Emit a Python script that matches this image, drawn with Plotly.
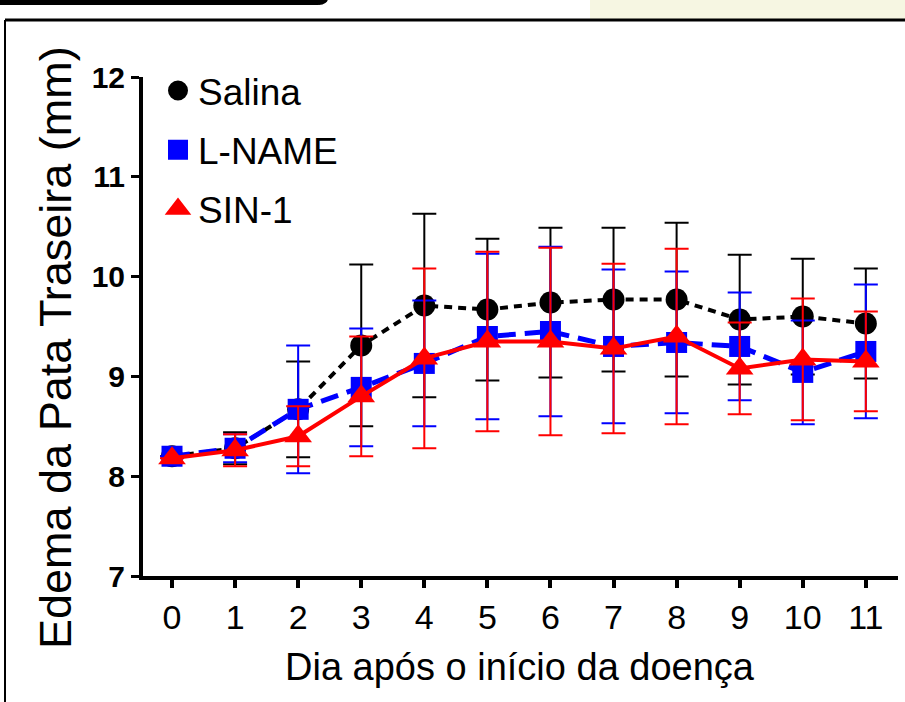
import plotly.graph_objects as go

# ---- data ----
days = [0, 1, 2, 3, 4, 5, 6, 7, 8, 9, 10, 11]
salina = [8.20, 8.28, 8.67, 9.31, 9.71, 9.67, 9.74, 9.77, 9.77, 9.57, 9.60, 9.53]
salina_err = [0.0, 0.16, 0.48, 0.81, 0.92, 0.71, 0.75, 0.72, 0.77, 0.65, 0.58, 0.55]
lname = [8.20, 8.28, 8.67, 8.89, 9.13, 9.40, 9.45, 9.30, 9.34, 9.30, 9.04, 9.25]
lname_err = [0.0, 0.14, 0.64, 0.59, 0.63, 0.83, 0.85, 0.77, 0.71, 0.54, 0.52, 0.67]
sin1 = [8.18, 8.26, 8.40, 8.80, 9.18, 9.35, 9.35, 9.28, 9.40, 9.08, 9.17, 9.15]
sin1_err = [0.0, 0.16, 0.30, 0.60, 0.90, 0.90, 0.94, 0.85, 0.88, 0.46, 0.61, 0.50]
series_names = ["Salina", "L-NAME", "SIN-1"]
x_tick_vals = days
y_tick_vals = [7, 8, 9, 10, 11, 12]
x_title = "Dia após o início da doença"
y_title = "Edema da Pata Traseira (mm)"

FONT = "Liberation Sans, Arial, sans-serif"
W, H = 905, 702
L, R, T, B = 143, 7, 77, 126
PW, PH = W - L - R, H - T - B


def px(xp):
    return (xp - L) / PW


def py(yp):
    return (H - B - yp) / PH


fig = go.Figure()

styles = [
    dict(color="black", dash="8px,6px", width=4, symbol="circle", size=22),
    dict(color="#0000ff", dash="18px,9px", width=5, symbol="square", size=21),
    dict(color="#ff0000", dash="solid", width=4, symbol="triangle-up", size=24),
]
vals = [salina, lname, sin1]
errs = [salina_err, lname_err, sin1_err]

for name, v, e, s in zip(series_names, vals, errs, styles):
    fig.add_trace(go.Scatter(
        x=days, y=v, mode="lines+markers", name=name, showlegend=False,
        line=dict(color=s["color"], width=s["width"], dash=s["dash"]),
        marker=dict(symbol=s["symbol"], size=s["size"], color=s["color"]),
        error_y=dict(type="data", array=e, visible=True, color=s["color"],
                     thickness=2, width=12),
        cliponaxis=False,
    ))

for name, s in zip(series_names, styles):
    fig.add_trace(go.Scatter(
        x=[None], y=[None], mode="markers", name=name, legendgroup=name,
        marker=dict(symbol=s["symbol"], size=16, color=s["color"],
                    line=dict(color=s["color"], width=4)),
    ))

shapes = [
    dict(type="rect", xref="paper", yref="paper", x0=px(590), x1=px(905),
         y0=py(0), y1=py(19), fillcolor="#f6f6e2", line=dict(width=0), layer="below"),
    dict(type="rect", xref="paper", yref="paper", x0=px(0), x1=px(318),
         y0=py(0), y1=py(5), fillcolor="black", line=dict(width=0)),
    dict(type="circle", xref="paper", yref="paper", x0=px(310), x1=px(328),
         y0=py(-8), y1=py(5), fillcolor="black", line=dict(width=0)),
    dict(type="line", xref="paper", yref="paper", x0=px(5), x1=px(905),
         y0=py(20), y1=py(20), line=dict(color="black", width=3)),
    dict(type="line", xref="paper", yref="paper", x0=px(5), x1=px(5),
         y0=py(20), y1=py(702), line=dict(color="black", width=2)),
]

annotations = [
    dict(text=x_title, xref="paper", yref="paper", x=px(520), y=py(667),
         xanchor="center", yanchor="middle", showarrow=False,
         font=dict(family=FONT, size=38, color="black")),
    dict(text=y_title, xref="paper", yref="paper", x=px(55), y=py(348),
         xanchor="center", yanchor="middle", showarrow=False, textangle=-90,
         font=dict(family=FONT, size=45, color="black")),
]

fig.update_layout(
    width=W, height=H,
    margin=dict(l=L, r=R, t=T, b=B),
    paper_bgcolor="white", plot_bgcolor="white",
    font=dict(family=FONT, color="black"),
    shapes=shapes, annotations=annotations,
    legend=dict(x=px(158), y=py(60), xanchor="left", yanchor="top",
                font=dict(family=FONT, size=37, color="black"),
                bgcolor="rgba(0,0,0,0)", tracegroupgap=8, itemwidth=30,
                itemsizing="trace"),
    xaxis=dict(range=[-0.46, 11.51], tickvals=x_tick_vals, showgrid=False,
               zeroline=False, showline=True, linecolor="black", linewidth=4,
               ticks="outside", ticklen=8, tickwidth=4, tickcolor="black",
               tickfont=dict(family=FONT, size=34, color="black")),
    yaxis=dict(range=[7, 12], tickvals=y_tick_vals, showgrid=False,
               zeroline=False, showline=True, linecolor="black", linewidth=4,
               ticks="outside", ticklen=8, tickwidth=3, tickcolor="black",
               tickfont=dict(family=FONT, size=30, color="black", weight="bold")),
)

fig.write_html("out.html")
